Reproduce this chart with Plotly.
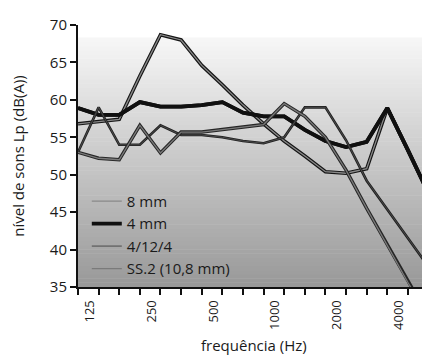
import plotly.graph_objects as go

freqs = ["100", "125", "160", "200", "250", "315", "400", "500", "630", "800",
         "1000", "1250", "1600", "2000", "2500", "3150", "4000", "5000"]
tick_labels = ["", "125", "", "", "250", "", "", "500", "", "",
               "1000", "", "", "2000", "", "", "4000", ""]

s_8mm = [56.8, 57.1, 57.4, 63.2, 68.7, 68.0, 64.6, 62.0, 59.3, 56.8,
         54.5, 52.5, 50.4, 50.2, 50.8, 58.9, 53.3, 47.5]
s_4mm = [58.9, 58.0, 58.0, 59.7, 59.1, 59.1, 59.3, 59.7, 58.3, 57.8,
         57.8, 56.0, 54.5, 53.7, 54.4, 58.9, 53.3, 47.5]
s_4124 = [53.0, 59.0, 54.0, 54.0, 56.6, 55.3, 55.3, 55.0, 54.5, 54.2,
          55.0, 59.0, 59.0, 54.6, 49.2, 45.4, 41.6, 37.7]
s_ss2 = [53.0, 52.2, 52.0, 56.6, 52.9, 55.7, 55.7, 56.0, 56.3, 56.7,
         59.5, 57.8, 55.0, 50.6, 45.5, 40.5, 35.6, 31.0]

names = ["8 mm", "4 mm", "4/12/4", "SS.2 (10,8 mm)"]
series = [s_8mm, s_4mm, s_4124, s_ss2]
outer = [("#151515", 3.6), ("#101010", 3.8), ("#202020", 2.6), ("#262626", 3.4)]
inner = [("#8a8a8a", 1.3), ("#101010", 3.8), ("#4a4a4a", 1.0), ("#7a7a7a", 1.3)]

fig = go.Figure()

# gradient background (halftone look of the scan)
n = 60
top = 0.95
c0, c1 = 247, 152
for i in range(n):
    y0 = top * i / n
    y1 = top * (i + 1) / n
    t = 1 - (i + 0.5) / n
    g = int(round(c0 - (c0 - c1) * t))
    fig.add_shape(type="rect", xref="x domain", yref="y domain",
                  x0=0, x1=1, y0=y0, y1=y1 + 0.002, line_width=0,
                  fillcolor=f"rgb({g},{g},{g})", layer="below")

for name, s, (oc, ow), (ic, iw) in zip(names, series, outer, inner):
    fig.add_trace(go.Scatter(x=freqs, y=s, mode="lines", name=name,
                             legendgroup=name, showlegend=False,
                             line=dict(color=oc, width=ow), hoverinfo="skip"))
    fig.add_trace(go.Scatter(x=freqs, y=s, mode="lines", name=name,
                             legendgroup=name, showlegend=True,
                             line=dict(color=ic, width=iw)))

font = "Open Sans, Lato, DejaVu Sans, sans-serif"
fig.update_layout(
    width=422, height=350,
    margin=dict(l=70, r=0, t=17, b=71),
    paper_bgcolor="white", plot_bgcolor="white",
    font=dict(family=font, color="#1a1a1a", size=14),
    showlegend=True,
    legend=dict(x=0.025, y=0.39, xanchor="left", yanchor="top",
                bgcolor="rgba(0,0,0,0)", itemwidth=30,
                font=dict(size=15, color="#1a1a1a"), tracegroupgap=0),
    xaxis=dict(type="category", categoryorder="array", categoryarray=freqs,
               range=[0, 17.07], tickmode="array", tickvals=freqs,
               ticktext=tick_labels, tickangle=-90, ticks="outside",
               ticklen=6, tickwidth=1.5, tickcolor="#111",
               ticklabelshift=-9, automargin=False,
               showline=True, linecolor="#111", linewidth=2,
               showgrid=False, zeroline=False,
               tickfont=dict(size=13, color="#1a1a1a")),
    yaxis=dict(range=[35, 70], dtick=5, tick0=35, ticks="outside",
               ticklen=6, tickwidth=1.5, tickcolor="#111",
               showline=True, linecolor="#111", linewidth=2,
               showgrid=False, zeroline=False, automargin=False,
               tickfont=dict(size=15, color="#1a1a1a"),
               title=dict(text="nível de sons Lp (dB(A))", font=dict(size=15), standoff=28)),
    annotations=[dict(text="frequência (Hz)", xref="paper", yref="paper",
                      x=0.5, y=-0.221, xanchor="center", yanchor="middle",
                      showarrow=False, font=dict(size=15, color="#1a1a1a"))],
)

fig.write_html("out.html")
